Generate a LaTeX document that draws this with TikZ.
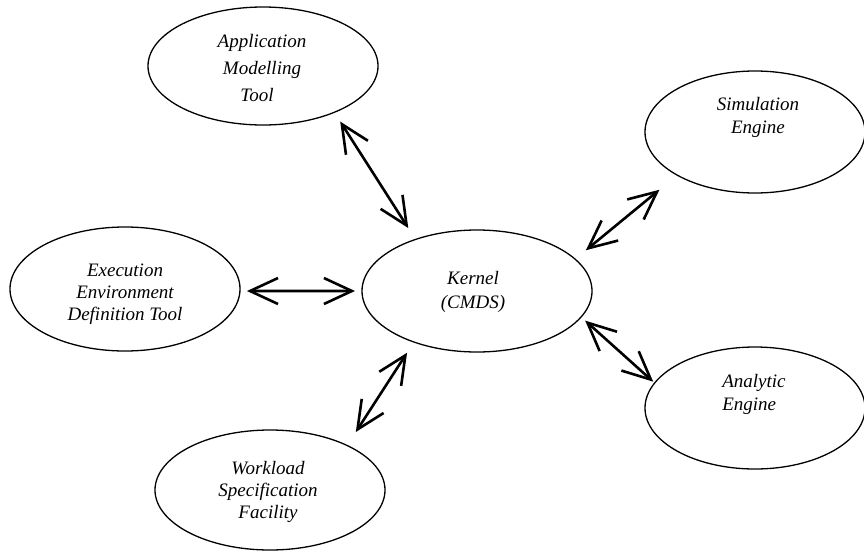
\documentclass[tikz,border=0pt]{standalone}
\usepackage{fontspec}
\setmainfont{Liberation Serif}
\usetikzlibrary{arrows.meta,shapes.geometric}
\begin{document}
\begin{tikzpicture}[x=1pt,y=-1pt,
  blob/.style={ellipse, draw, line width=1.3pt, inner sep=0pt, outer sep=0pt},
  caption/.style={align=center, inner sep=0pt, font=\itshape\fontsize{19}{23}\selectfont},
  barb/.tip={Straight Barb[length=28pt,width=26pt]},
  link/.style={line width=2.6pt, barb-barb}]
\useasboundingbox (0,0) rectangle (864,557);

% components
\node[blob, minimum width=230pt, minimum height=118pt] (app)    at (263,66)  {};
\node[blob, minimum width=220pt, minimum height=122pt] (sim)    at (755,132) {};
\node[blob, minimum width=230pt, minimum height=124pt] (exec)   at (125,289) {};
\node[blob, minimum width=230pt, minimum height=122pt] (kernel) at (477,291) {};
\node[blob, minimum width=220pt, minimum height=122pt] (ana)    at (755,408) {};
\node[blob, minimum width=230pt, minimum height=120pt] (work)   at (270,490) {};

% their names
\node[caption, font=\itshape\fontsize{19}{27}\selectfont] (appT) at (262,68)
  {Application\\Modelling\\\hspace*{-10pt}Tool};
\node[caption] (simT)    at (758,117) {Simulation\\Engine};
\node[caption, font=\itshape\fontsize{19}{22}\selectfont] (execT) at (125,294)
  {Execution\\Environment\\Definition Tool};
\node[caption, font=\itshape\fontsize{19}{24}\selectfont] (kernelT) at (473,292)
  {Kernel\\(CMDS)};
\node[caption, align=left] (anaT) at (754,394) {Analytic\\Engine};
\node[caption, font=\itshape\fontsize{19}{22}\selectfont] (workT) at (268,492)
  {Workload\\Specification\\Facility};

% two-way links to the kernel
\draw[link, shorten <=11pt, shorten >=13.5pt] (app.-33.3) -- (kernel.140.1);
\draw[link, shorten <=7pt, shorten >=7pt] (exec.-1) -- (kernel.180);
\draw[link, shorten <=14pt, shorten >=23pt] (kernel.18.4) -- (sim.209.5);
\draw[link, shorten <=5.5pt, shorten >=2pt] (kernel.-14.9) -- (ana.166.2);
\draw[link, shorten <=12.7pt, shorten >=16pt] (kernel.219.7) -- (work.30);
\end{tikzpicture}
\end{document}
